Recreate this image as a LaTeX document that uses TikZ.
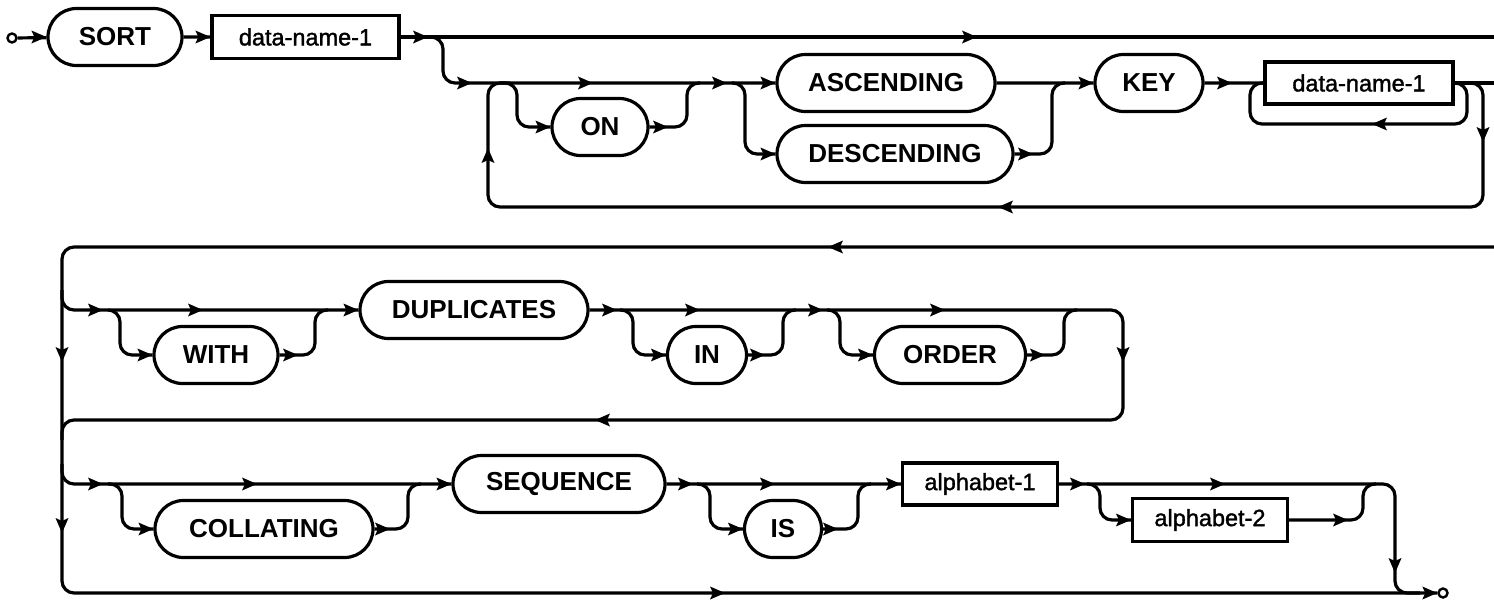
\documentclass[tikz,border=0pt]{standalone}
\usepackage{fontspec}
\setmainfont{Liberation Sans}
\newfontfamily\varfont[FakeBold=1.5]{Liberation Sans}
\usetikzlibrary{shapes.misc}

\tikzset{
  rail/.style={line width=3.2pt,rounded corners=12pt,line join=round},
  kw/.style={rounded rectangle,draw,line width=3.2pt,inner sep=0pt,minimum height=57pt,
    font=\fontsize{26}{28}\selectfont\bfseries},
  var/.style={rectangle,draw,line width=3.2pt,inner sep=0pt,minimum height=43pt,
    font=\fontsize{23.5}{25}\varfont},
  term/.style={circle,draw,line width=2.4pt,inner sep=0pt,minimum size=9pt},
  pics/ahead/.style={code={\fill[rotate=#1] (0,0) -- (-15,6.5) -- (-12,0) -- (-15,-6.5) -- cycle;}}
}

\begin{document}
\begin{tikzpicture}[x=1pt,y=-1pt]
\useasboundingbox (0,0) rectangle (1494,600);

% row 1
\node[term] (start) at (12,38) {};
\node[kw,minimum width=134pt] (sort) at (115,37) {SORT};
\node[var,minimum width=187pt] (dnA) at (305.5,37) {data-name-1};
\node[kw,minimum width=96pt] (on) at (600,127) {ON};
\node[kw,minimum width=218pt] (asc) at (886,83) {ASCENDING};
\node[kw,minimum width=236pt] (desc) at (895,154) {DESCENDING};
\node[kw,minimum width=108pt] (key) at (1149,83) {KEY};
\node[var,minimum width=188pt,minimum height=42pt] (dnB) at (1359,83) {data-name-1};

\coordinate (outA) at (1494,37);
\coordinate (outB) at (1494,83);
\coordinate (inC) at (1494,247);

\draw[rail] (start) -- (sort);
\draw[rail] (sort) -- (dnA);
\draw[rail] (dnA) -- (outA);
\draw[rail] (430,37) -- (443,37) -- (443,83) -- (asc.west);
\draw[rail] (dnB.east) -- (1483,83) -- (1483,207) -- (488,207) -- (488,83) -- (510,83);
\draw[rail] (500,83) -- (517,83) -- (517,127) -- (on.west);
\draw[rail] (on.east) -- (687,127) -- (687,83) -- (700,83);
\draw[rail] (732,83) -- (745,83) -- (745,154) -- (desc.west);
\draw[rail] (desc.east) -- (1052,154) -- (1052,83) -- (1065,83);
\draw[rail] (asc) -- (key);
\draw[rail] (key) -- (dnB);
\draw[rail] (dnB.east) -- (1467,83) -- (1467,124) -- (1250,124) -- (1250,83) -- (dnB.west);
\draw[rail] (dnB) -- (outB);

\pic at (sort.west) {ahead=0};
\pic at (dnA.west) {ahead=0};
\pic at (428,37) {ahead=0};
\pic at (977,37) {ahead=0};
\pic at (472,83) {ahead=0};
\pic at (593,83) {ahead=0};
\pic at (on.west) {ahead=0};
\pic at (668,127) {ahead=0};
\pic at (727,83) {ahead=0};
\pic at (asc.west) {ahead=0};
\pic at (desc.west) {ahead=0};
\pic at (1033,154) {ahead=0};
\pic at (key.west) {ahead=0};
\pic at (1232,83) {ahead=0};
\pic at (1372,124) {ahead=180};
\pic at (1483,142) {ahead=-90};
\pic at (998,207) {ahead=180};
\pic at (488,148) {ahead=90};

% row 2
\node[kw,minimum width=124pt] (with) at (216,355) {WITH};
\node[kw,minimum width=228pt] (dup) at (474,310) {DUPLICATES};
\node[kw,minimum width=79pt] (in) at (707,355) {IN};
\node[kw,minimum width=151pt] (order) at (950,355) {ORDER};
\node[term] (stop) at (1443,593) {};

\draw[rail] (inC) -- (62,247) -- (62,593) -- (stop);
\draw[rail] (62,290) -- (62,310) -- (dup.west);
\draw[rail] (108,310) -- (120,310) -- (120,355) -- (with.west);
\draw[rail] (with.east) -- (315,355) -- (315,310) -- (328,310);
\draw[rail] (dup.east) -- (1123,310) -- (1123,420) -- (62,420) -- (62,440);
\draw[rail] (620,310) -- (633,310) -- (633,355) -- (in.west);
\draw[rail] (in.east) -- (783,355) -- (783,310) -- (796,310);
\draw[rail] (827,310) -- (840,310) -- (840,355) -- (order.west);
\draw[rail] (order.east) -- (1064,355) -- (1064,310) -- (1077,310);

\pic at (828,247) {ahead=180};
\pic at (62,362) {ahead=-90};
\pic at (103,310) {ahead=0};
\pic at (203,310) {ahead=0};
\pic at (with.west) {ahead=0};
\pic at (298,355) {ahead=0};
\pic at (dup.west) {ahead=0};
\pic at (617,310) {ahead=0};
\pic at (700,310) {ahead=0};
\pic at (in.west) {ahead=0};
\pic at (765,355) {ahead=0};
\pic at (823,310) {ahead=0};
\pic at (945,310) {ahead=0};
\pic at (order.west) {ahead=0};
\pic at (1045,355) {ahead=0};
\pic at (1123,362) {ahead=-90};
\pic at (595,420) {ahead=180};

% row 3
\node[kw,minimum width=218pt] (coll) at (264,529) {COLLATING};
\node[kw,minimum width=212pt] (seq) at (559,484) {SEQUENCE};
\node[kw,minimum width=77pt] (is) at (783,529) {IS};
\node[var,minimum width=155pt,minimum height=42pt] (alphA) at (980,484) {alphabet-1};
\node[var,minimum width=155pt] (alphB) at (1210,520) {alphabet-2};

\draw[rail] (62,464) -- (62,484) -- (seq.west);
\draw[rail] (108,484) -- (122,484) -- (122,529) -- (coll.west);
\draw[rail] (coll.east) -- (408,529) -- (408,484) -- (421,484);
\draw[rail] (seq) -- (alphA);
\draw[rail] (697,484) -- (710,484) -- (710,529) -- (is.west);
\draw[rail] (is.east) -- (858,529) -- (858,484) -- (871,484);
\draw[rail] (alphA.east) -- (1395,484) -- (1395,593) -- (1420,593);
\draw[rail] (1087,484) -- (1100,484) -- (1100,520) -- (alphB.west);
\draw[rail] (alphB.east) -- (1363,520) -- (1363,484) -- (1376,484);

\pic at (62,533) {ahead=-90};
\pic at (103,484) {ahead=0};
\pic at (257,484) {ahead=0};
\pic at (coll.west) {ahead=0};
\pic at (390,529) {ahead=0};
\pic at (seq.west) {ahead=0};
\pic at (693,484) {ahead=0};
\pic at (775,484) {ahead=0};
\pic at (is.west) {ahead=0};
\pic at (838,529) {ahead=0};
\pic at (alphA.west) {ahead=0};
\pic at (1085,484) {ahead=0};
\pic at (1225,484) {ahead=0};
\pic at (alphB.west) {ahead=0};
\pic at (1348,520) {ahead=0};
\pic at (1395,573) {ahead=-90};
\pic at (725,593) {ahead=0};
\pic at (stop.west) {ahead=0};

\end{tikzpicture}
\end{document}
